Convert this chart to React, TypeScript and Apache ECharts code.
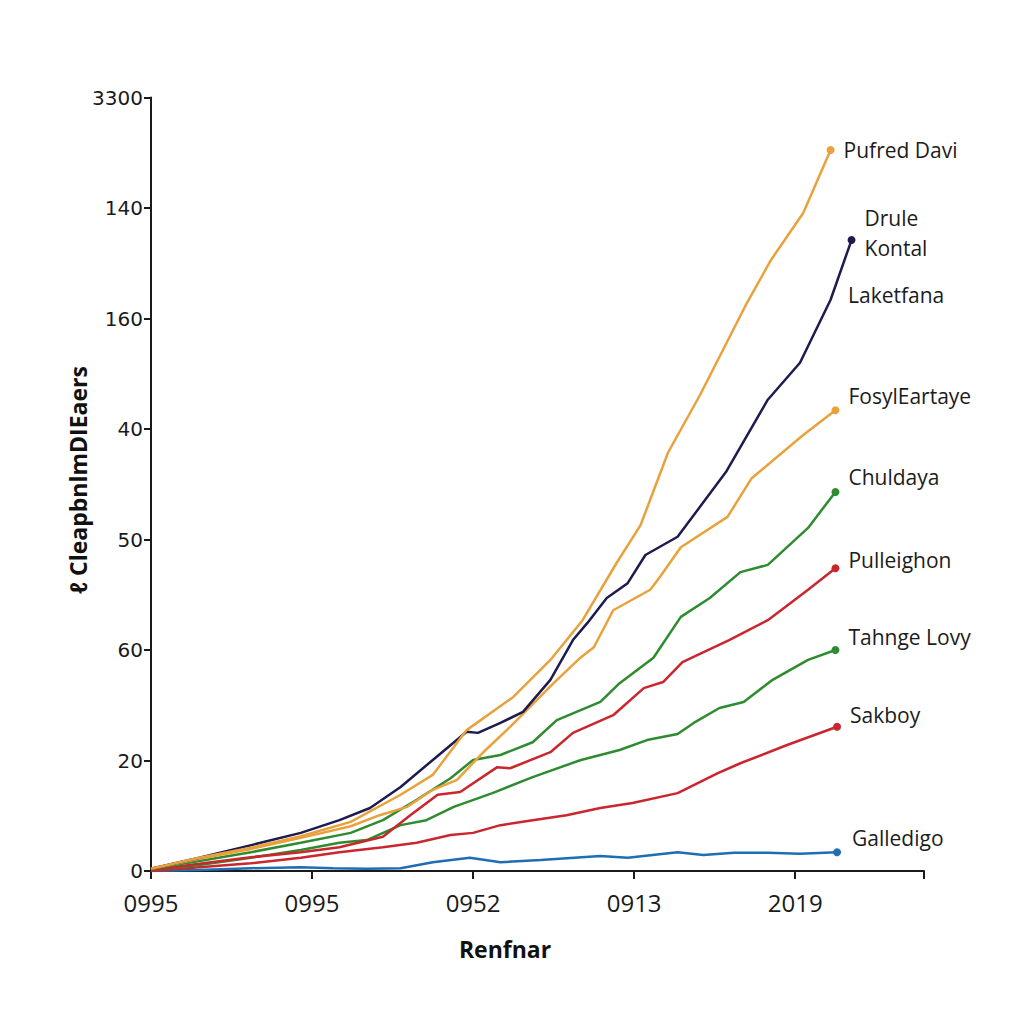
import React, { useEffect, useRef } from "react";
import * as echarts from "echarts";

const xTickLabels = ["0995", "0995", "0952", "0913", "2019"];
const yTickLabels = ["0", "20", "60", "50", "40", "160", "140", "3300"];

const pufredDavi: number[][] = [
  [0, 0.4], [3.0, 2.4], [6.2, 4.2], [9.3, 6.3], [12.4, 8.9], [15.5, 13.8], [17.5, 17.4],
  [19.6, 25.5], [22.5, 31.5], [24.8, 38.2], [26.8, 45.4], [28.9, 55.7], [30.4, 62.6],
  [32.1, 75.7], [34.1, 86.2], [37.0, 102.8], [38.5, 110.6], [40.5, 119.1], [42.2, 130.5],
];
const druleKontal: number[][] = [
  [0, 0.4], [3.0, 2.4], [6.8, 5.1], [9.3, 6.9], [11.7, 9.2], [13.6, 11.4], [15.5, 15.2],
  [17.5, 20.1], [19.6, 25.2], [20.3, 25.0], [21.7, 26.8], [23.1, 28.8], [24.8, 34.6],
  [26.2, 41.8], [27.1, 44.9], [28.3, 49.4], [29.6, 52.1], [30.7, 57.2], [32.7, 60.5],
  [35.7, 72.2], [38.3, 85.3], [40.3, 92.0], [42.2, 103.4], [43.5, 114.2],
];
const fosylEartaye: number[][] = [
  [0, 0.4], [3.0, 2.2], [6.2, 4.0], [9.3, 6.0], [12.4, 8.1], [14.2, 10.1], [15.9, 11.6],
  [17.5, 14.7], [19.0, 16.5], [20.6, 21.4], [22.3, 26.1], [25.0, 34.0], [26.7, 38.7],
  [27.5, 40.5], [28.7, 47.2], [31.0, 50.9], [31.6, 53.2], [32.9, 58.6], [35.8, 64.1],
  [37.3, 71.1], [40.5, 78.9], [42.5, 83.4],
];
const chuldaya: number[][] = [
  [0, 0.4], [3.0, 1.8], [6.2, 3.4], [9.3, 5.1], [12.4, 6.9], [14.4, 9.2], [16.5, 12.9],
  [18.6, 16.8], [20.0, 20.1], [21.7, 21.0], [23.7, 23.3], [25.2, 27.3], [27.9, 30.6],
  [29.1, 34.0], [31.2, 38.6], [32.9, 46.0], [34.7, 49.4], [36.6, 54.1], [38.3, 55.4],
  [40.8, 62.1], [42.5, 68.6],
];
const pulleighon: number[][] = [
  [0, 0.2], [3.0, 1.3], [6.2, 2.5], [9.3, 3.4], [11.7, 4.3], [14.4, 6.2], [16.1, 10.1],
  [17.8, 13.8], [19.2, 14.3], [21.5, 18.8], [22.3, 18.6], [24.8, 21.5], [26.2, 25.0],
  [28.7, 28.2], [30.6, 33.1], [31.8, 34.2], [33.0, 37.8], [35.9, 41.8], [38.3, 45.4],
  [40.8, 50.9], [42.5, 54.8],
];
const tahngeLovy: number[][] = [
  [0, 0.2], [3.0, 1.1], [6.2, 2.4], [9.3, 3.8], [11.7, 5.1], [13.4, 5.6], [15.5, 8.3],
  [17.1, 9.2], [18.8, 11.6], [21.2, 14.1], [23.7, 17.0], [26.7, 20.1], [29.1, 21.9],
  [30.8, 23.7], [32.7, 24.8], [33.7, 26.8], [35.3, 29.5], [36.8, 30.6], [38.6, 34.6],
  [40.8, 38.2], [42.5, 40.0],
];
const sakboy: number[][] = [
  [0, 0], [3.0, 0.7], [6.2, 1.4], [9.3, 2.4], [11.7, 3.4], [14.4, 4.3], [16.5, 5.1],
  [18.6, 6.5], [20.0, 6.9], [21.7, 8.3], [23.7, 9.2], [25.8, 10.1], [27.9, 11.4],
  [29.9, 12.3], [32.7, 14.1], [35.2, 17.7], [36.6, 19.5], [39.5, 22.8], [42.6, 26.1],
];
const galledigo: number[][] = [
  [0, 0], [3.0, 0.2], [6.2, 0.5], [9.3, 0.7], [11.3, 0.5], [13.4, 0.4], [15.5, 0.5],
  [17.5, 1.6], [19.8, 2.4], [21.7, 1.6], [24.2, 2.0], [27.9, 2.7], [29.6, 2.4],
  [32.7, 3.4], [34.3, 2.9], [36.2, 3.3], [38.3, 3.3], [40.3, 3.1], [42.6, 3.4],
];

const seriesNames = [
  "Pufred Davi",
  "Drule\nKontal",
  "FosylEartaye",
  "Chuldaya",
  "Pulleighon",
  "Tahnge Lovy",
  "Sakboy",
  "Galledigo",
];
const seriesData = [pufredDavi, druleKontal, fosylEartaye, chuldaya, pulleighon, tahngeLovy, sakboy, galledigo];
const seriesColors = ["#E9A23B", "#1E1B4E", "#E9A23B", "#2E8B30", "#C9262E", "#2E8B30", "#C9262E", "#1F6DB3"];
const labelOffsets = [[0, 0], [0, -7], [0, -14], [0, -15], [0, -8], [0, -13], [0, -12], [2, -14]];
const extraLabel = "Laketfana";

const labelFont = "'Open Sans', 'Noto Sans', sans-serif";

export default function App() {
  const ref = useRef<HTMLDivElement>(null);
  useEffect(() => {
    if (!ref.current) return;
    const chart = echarts.init(ref.current, undefined, { renderer: "svg" });
    const series = seriesData.map((d, i) => ({
      type: "line",
      name: seriesNames[i],
      symbol: "none",
      showSymbol: true,
      lineStyle: { color: seriesColors[i], width: 2.5 },
      itemStyle: { color: seriesColors[i] },
      z: 10 - i,
      data: d.map((p, j) =>
        j === d.length - 1
          ? {
              value: p,
              symbol: "circle",
              symbolSize: 8,
              label: {
                show: true,
                position: "right",
                distance: 9,
                offset: labelOffsets[i],
                formatter: seriesNames[i],
                fontSize: 21,
                lineHeight: 30,
                color: "#1c1c1c",
                fontFamily: labelFont,
              },
            }
          : { value: p }
      ),
    }));
    chart.setOption({
      animation: false,
      backgroundColor: "#ffffff",
      grid: { left: 151, right: 100, top: 97.5, bottom: 153, containLabel: false },
      xAxis: {
        type: "value",
        min: 0,
        max: 48,
        interval: 10,
        axisLine: { show: true, lineStyle: { color: "#1a1a1a", width: 2 } },
        axisTick: { show: true, length: 8, lineStyle: { color: "#1a1a1a", width: 2 } },
        splitLine: { show: false },
        axisLabel: {
          formatter: (v: number) => xTickLabels[Math.round(v / 10)] ?? "",
          fontSize: 24,
          margin: 19,
          color: "#1a1a1a",
          fontFamily: labelFont,
        },
      },
      yAxis: {
        type: "value",
        min: 0,
        max: 140,
        interval: 20,
        axisLine: { show: true, lineStyle: { color: "#1a1a1a", width: 2 } },
        axisTick: { show: true, length: 7, lineStyle: { color: "#1a1a1a", width: 2 } },
        splitLine: { show: false },
        axisLabel: {
          formatter: (v: number) => yTickLabels[Math.round(v / 20)] ?? "",
          fontSize: 20,
          margin: 8,
          color: "#1a1a1a",
          fontFamily: "'DejaVu Sans', sans-serif",
        },
      },
      graphic: [
        {
          type: "text",
          left: 848,
          top: 284,
          style: { text: extraLabel, fill: "#1c1c1c", font: `21px ${labelFont}` },
        },
        {
          type: "text",
          x: 505,
          y: 949,
          style: {
            text: "Renfnar",
            fill: "#111",
            font: `bold 23px ${labelFont}`,
            align: "center",
            verticalAlign: "middle",
          },
        },
        {
          type: "text",
          x: 78,
          y: 480,
          rotation: Math.PI / 2,
          style: {
            text: "ℓ CleapbnlmDIEaers",
            fill: "#111",
            font: `bold 23px ${labelFont}`,
            align: "center",
            verticalAlign: "middle",
          },
        },
      ],
      series,
    });
    return () => chart.dispose();
  }, []);
  return (
    <div
      ref={ref}
      style={{ position: "fixed", left: 0, top: 0, width: 1024, height: 1024, background: "#fff" }}
    />
  );
}
